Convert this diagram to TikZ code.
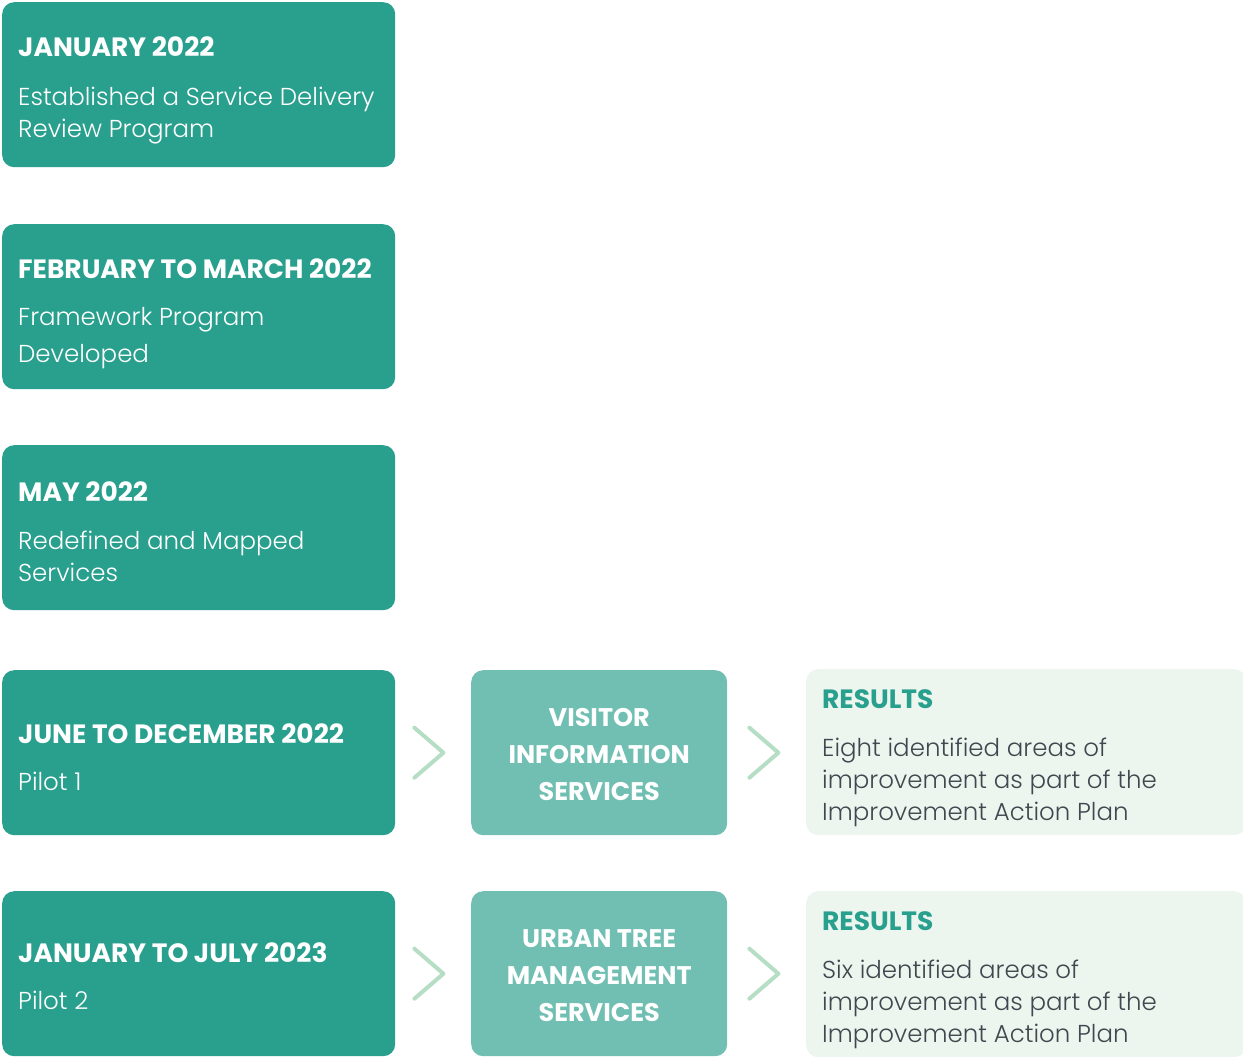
\documentclass[tikz,border=0pt]{standalone}
\usepackage{fontspec}
\setmainfont{Poppins}
\newfontfamily\headfont{Poppins}[UprightFont=* Bold]
\newfontfamily\bodyfont{Poppins}[UprightFont=* Light]
\usetikzlibrary{calc}
\definecolor{teal-dark}{RGB}{41,159,141}
\definecolor{teal-mid}{RGB}{112,191,178}
\definecolor{mint-light}{RGB}{236,246,239}
\definecolor{mint-mid}{RGB}{181,222,197}
\definecolor{text-grey}{RGB}{62,72,78}
\tikzset{
    my-step-box/.style={
        fill=teal-dark, rounded corners=12pt, minimum width=393pt, minimum height=165pt, inner sep=0pt
    },
    my-service-box/.style={
        fill=teal-mid, rounded corners=12pt, minimum width=256pt, minimum height=165pt, inner sep=0pt,
        align=center, text=white, font=\headfont\fontsize{25.5}{37}\selectfont
    },
    my-result-box/.style={
        fill=mint-light, rounded corners=12pt, minimum width=440pt, minimum height=166pt, inner sep=0pt
    },
    my-chevron/.style={
        draw=mint-mid, line width=4pt, line cap=round, line join=round
    },
    my-head/.style={
        anchor=base west, inner sep=0pt, text=white, font=\headfont\fontsize{26.5}{30}\selectfont
    },
    my-body/.style={
        anchor=base west, inner sep=0pt, align=left, text=white, font=\bodyfont\fontsize{24.5}{32}\selectfont
    },
}

\begin{document}
\begin{tikzpicture}[x=1pt, y=-1pt]

        \useasboundingbox (0,0) rectangle (1243,1057);

        % STEP BOXES
        \node[my-step-box, anchor=north west] (JAN) at (2, 2)   {};
        \node[my-step-box, anchor=north west] (FEB) at (2, 224) {};
        \node[my-step-box, anchor=north west] (MAY) at (2, 445) {};
        \node[my-step-box, anchor=north west] (P1)  at (2, 670) {};
        \node[my-step-box, anchor=north west] (P2)  at (2, 891) {};

        % STEP TEXTS (base of a wrapped text is its last line)
        \node[my-head] (JANHEAD) at ($(JAN.north west) + (16, 55)$)  {JANUARY 2022};
        \node[my-body] (JANBODY) at ($(JAN.north west) + (16, 135)$) {Established a Service Delivery\\Review Program};
        \node[my-head] (FEBHEAD) at ($(FEB.north west) + (16, 54)$)  {FEBRUARY TO MARCH 2022};
        \node[my-body, font=\bodyfont\fontsize{24.5}{37}\selectfont]
                       (FEBBODY) at ($(FEB.north west) + (16, 138)$) {Framework Program\\Developed};
        \node[my-head] (MAYHEAD) at ($(MAY.north west) + (16, 56)$)  {MAY 2022};
        \node[my-body] (MAYBODY) at ($(MAY.north west) + (16, 136)$) {Redefined and Mapped\\Services};
        \node[my-head] (P1HEAD)  at ($(P1.north west) + (16, 73)$)   {JUNE TO DECEMBER 2022};
        \node[my-body] (P1BODY)  at ($(P1.north west) + (16, 120)$)  {Pilot 1};
        \node[my-head] (P2HEAD)  at ($(P2.north west) + (16, 71)$)   {JANUARY TO JULY 2023};
        \node[my-body] (P2BODY)  at ($(P2.north west) + (16, 118)$)  {Pilot 2};

        % SERVICE BOXES
        \node[my-service-box, anchor=north west] (VIS) at (471, 670) {};
        \node[my-service-box, anchor=north west] (UTM) at (471, 891) {};
        \node[my-service-box, fill=none, minimum width=0pt, minimum height=0pt]
            (VISTEXT) at ($(VIS.center) + (0, 2)$) {VISITOR\\INFORMATION\\SERVICES};
        \node[my-service-box, fill=none, minimum width=0pt, minimum height=0pt]
            (UTMTEXT) at ($(UTM.center) + (0, 2)$) {URBAN TREE\\MANAGEMENT\\SERVICES};

        % RESULT BOXES
        \node[my-result-box, anchor=north west] (RES1) at (806, 669) {};
        \node[my-result-box, anchor=north west] (RES2) at (806, 891) {};
        \node[my-head, text=teal-dark] (RES1HEAD) at ($(RES1.north west) + (16, 39)$) {RESULTS};
        \node[my-body, text=text-grey] (RES1BODY) at ($(RES1.north west) + (16, 151)$)
            {Eight identified areas of\\improvement as part of the\\Improvement Action Plan};
        \node[my-head, text=teal-dark] (RES2HEAD) at ($(RES2.north west) + (16, 39)$) {RESULTS};
        \node[my-body, text=text-grey] (RES2BODY) at ($(RES2.north west) + (16, 151)$)
            {Six identified areas of\\improvement as part of the\\Improvement Action Plan};

        % CHEVRONS
        \draw[my-chevron] ($(P1.east) + (19, -25)$)  -- ($(P1.east) + (48, 0)$)  -- ($(P1.east) + (19, 25)$);
        \draw[my-chevron] ($(VIS.east) + (22, -25)$) -- ($(VIS.east) + (51, 0)$) -- ($(VIS.east) + (22, 25)$);
        \draw[my-chevron] ($(P2.east) + (19, -25)$)  -- ($(P2.east) + (48, 0)$)  -- ($(P2.east) + (19, 25)$);
        \draw[my-chevron] ($(UTM.east) + (22, -25)$) -- ($(UTM.east) + (51, 0)$) -- ($(UTM.east) + (22, 25)$);

    \end{tikzpicture}
\end{document}
